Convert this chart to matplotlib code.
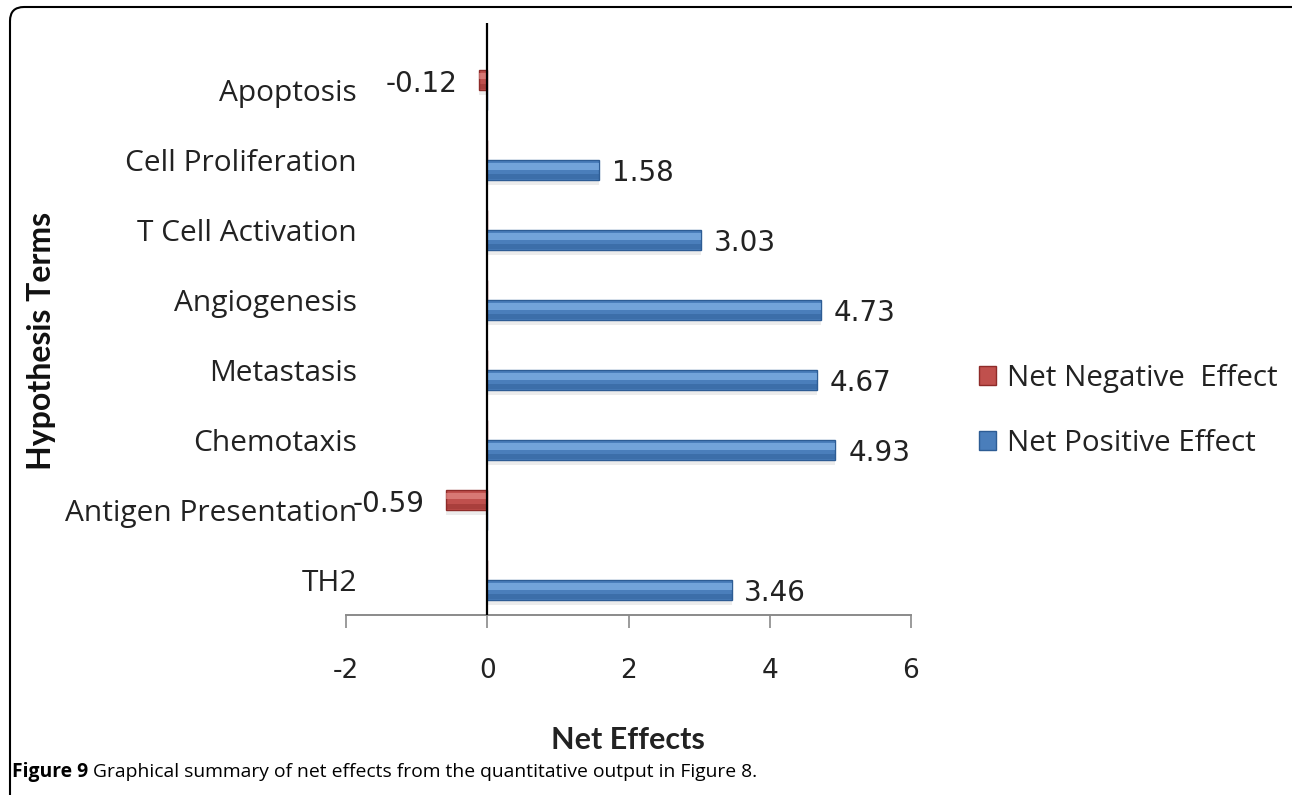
import numpy as np
import matplotlib
matplotlib.use('Agg')
import matplotlib.pyplot as plt
from matplotlib.patches import Patch, FancyBboxPatch
from matplotlib.transforms import IdentityTransform

# data (bottom to top)
terms = ['TH2', 'Antigen Presentation', 'Chemotaxis', 'Metastasis',
         'Angiogenesis', 'T Cell Activation', 'Cell Proliferation', 'Apoptosis']
neg = [0, -0.59, 0, 0, 0, 0, 0, -0.12]
pos = [3.46, 0, 4.93, 4.67, 4.73, 3.03, 1.58, 0]
xticks = [-2, 0, 2, 4, 6]

plt.rcParams['font.family'] = ['Open Sans', 'DejaVu Sans']
txt = '#222222'

W, H = 1292, 795
fig = plt.figure(figsize=(W/100., H/100.), dpi=100)
ax = fig.add_axes([346./W, (H-615.)/H, (911.-346)/W, (615.-23)/H])

y = np.arange(len(terms))
h = 0.28
off = 0.143

def fancy_bars(vals, ypos, main, light, dark):
    vals = np.array(vals, dtype=float)
    # soft shadow under the bar
    ax.barh(ypos - 0.07, vals, h, color='0.6', alpha=0.18, linewidth=0)
    ax.barh(ypos, vals, h, color=main, edgecolor=dark, linewidth=1.0)
    ax.barh(ypos + h*0.2, vals, h*0.35, color=light, linewidth=0, alpha=0.55)
    ax.barh(ypos - h*0.33, vals, h*0.3, color=dark, linewidth=0, alpha=0.45)

fancy_bars(neg, y + off, '#c0504d', '#ec9a96', '#8e2b29')
fancy_bars(pos, y - off, '#4a7ebb', '#94c2f2', '#2d5c94')

for i in range(len(terms)):
    if neg[i] != 0:
        ax.text(neg[i] - 0.3, y[i] + off - 0.06, '%.2f' % neg[i], ha='right', va='center',
                fontsize=20, color=txt, family='DejaVu Sans')
    if pos[i] != 0:
        ax.text(pos[i] + 0.18, y[i] - off - 0.04, '%.2f' % pos[i], ha='left', va='center',
                fontsize=20, color=txt, family='DejaVu Sans')

ax.axvline(0, color='black', linewidth=1.6, zorder=5)

ax.set_xlim(-2, 6)
ax.set_ylim(-0.5, 7.957)
ax.set_xticks(xticks)
ax.set_xticklabels([str(t) for t in xticks], fontsize=19, color=txt, family='DejaVu Sans')
ax.set_yticks(y)
ax.set_yticklabels(terms, fontsize=21.5, color=txt)
ax.tick_params(axis='y', length=0, pad=-8)
ax.tick_params(axis='x', direction='out', length=9, width=1.2, color='#8a8a8a', pad=22)
for s in ['top', 'right', 'left']:
    ax.spines[s].set_visible(False)
ax.spines['bottom'].set_color('#8a8a8a')
ax.spines['bottom'].set_linewidth(1.4)

fig.text(628./W, 1 - 740./H, 'Net Effects', ha='center', va='center', fontsize=22,
         fontweight='bold', color=txt, family=['Lato', 'DejaVu Sans'])
fig.text(42./W, 1 - 341./H, 'Hypothesis Terms', ha='center', va='center', rotation=90,
         fontsize=23, fontweight='bold', color='#111111', family=['Lato', 'DejaVu Sans'])

handles = [Patch(facecolor='#c0504d', edgecolor='#8e2b29'), Patch(facecolor='#4a7ebb', edgecolor='#2d5c94')]
fig.legend(handles, ['Net Negative  Effect', 'Net Positive Effect'], loc='center left',
           bbox_to_anchor=(952./W, 1 - 411./H), frameon=False, fontsize=21.3,
           handlelength=0.6, handleheight=0.6, handletextpad=0.35, labelspacing=1.2,
           labelcolor=txt)

# rounded frame around the figure panel
frame = FancyBboxPatch((10, -40), 1300, H - 7 + 40, boxstyle='round,pad=0,rounding_size=14',
                       transform=IdentityTransform(), facecolor='none', edgecolor='black',
                       linewidth=1.5, clip_on=False)
fig.patches.append(frame)

# caption: bold "Figure 9" then plain text
cap1 = fig.text(12./W, 1 - 772./H, 'Figure 9', ha='left', va='center', fontsize=13.9,
                fontweight='bold')
r = fig.canvas.get_renderer()
bb = cap1.get_window_extent(renderer=r)
fig.text((bb.x1 + 5)/W, 1 - 772./H,
         'Graphical summary of net effects from the quantitative output in Figure 8.',
         ha='left', va='center', fontsize=13.9)

fig.savefig('out.png', dpi=100)
